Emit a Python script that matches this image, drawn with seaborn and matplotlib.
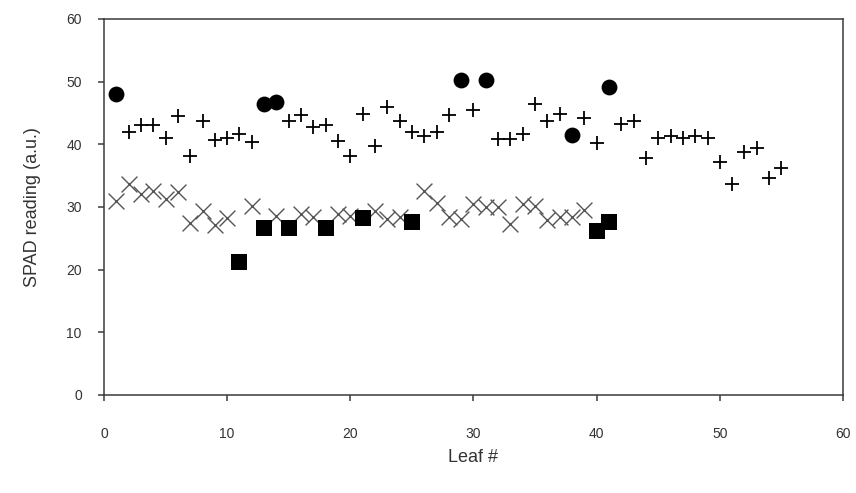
import matplotlib
matplotlib.use("Agg")
import matplotlib.pyplot as plt
import seaborn as sns
import pandas as pd

# Plus series (black +)
plus_x = [2, 3, 4, 5, 6, 7, 8, 9, 10, 11, 12, 15, 16, 17, 18, 19, 20, 21, 22, 23, 24,
          25, 26, 27, 28, 30, 32, 33, 34, 35, 36, 37, 39, 40, 42, 43, 44, 45, 46, 47,
          48, 49, 50, 51, 52, 53, 54, 55]
plus_y = [42.0, 43.1, 43.1, 41.0, 44.5, 38.2, 43.7, 40.7, 41.0, 41.6, 40.4, 43.7, 44.7,
          42.8, 43.1, 40.5, 38.2, 44.8, 39.8, 45.9, 43.7, 41.9, 41.4, 42.0, 44.6, 45.5,
          40.9, 40.9, 41.6, 46.4, 43.7, 44.8, 44.2, 40.2, 43.3, 43.7, 37.8, 41.0, 41.4,
          41.0, 41.4, 41.0, 37.2, 33.7, 38.8, 39.4, 34.6, 36.2]

# Cross series (grey x)
cross_x = [1, 2, 3, 4, 5, 6, 7, 8, 9, 10, 12, 14, 16, 17, 19, 20, 22, 23, 24, 26, 27,
           28, 29, 30, 31, 32, 33, 34, 35, 36, 37, 38, 39]
cross_y = [31.0, 33.7, 32.1, 32.6, 31.3, 32.4, 27.4, 29.3, 27.1, 28.3, 30.2, 28.5, 28.9,
           28.4, 28.9, 28.6, 29.4, 28.1, 28.4, 32.6, 30.6, 28.4, 28.1, 30.5, 30.0, 30.0,
           27.3, 30.4, 30.2, 27.9, 28.4, 28.4, 29.5]

# Filled circles
circle_x = [1, 13, 14, 29, 31, 38, 41]
circle_y = [48.0, 46.5, 46.7, 50.2, 50.2, 41.5, 49.2]

# Filled squares
square_x = [11, 13, 15, 18, 21, 25, 40, 41]
square_y = [21.2, 26.7, 26.7, 26.6, 28.2, 27.6, 26.1, 27.6]

sns.set_style("white")
plt.rcParams['font.family'] = ['Liberation Sans', 'DejaVu Sans']

fig = plt.figure(figsize=(8.56, 4.93), dpi=100)
ax = fig.add_axes([0.1215, 0.1988, 0.8633, 0.7627])

sns.scatterplot(x=cross_x, y=cross_y, marker='x', color='#555555', s=130,
                linewidth=1.0, ax=ax, zorder=2)
sns.scatterplot(x=plus_x, y=plus_y, marker='+', color='black', s=110,
                linewidth=1.3, ax=ax, zorder=3)
sns.scatterplot(x=square_x, y=square_y, marker='s', color='black', s=120,
                linewidth=0, ax=ax, zorder=4)
sns.scatterplot(x=circle_x, y=circle_y, marker='o', color='black', s=130,
                linewidth=0, ax=ax, zorder=4)

ax.set_xlim(0, 60)
ax.set_ylim(0, 60)
ax.set_xticks(range(0, 61, 10))
ax.set_yticks(range(0, 61, 10))
for sp in ax.spines.values():
    sp.set_visible(True)
    sp.set_color('#3a3a3a')
    sp.set_linewidth(1.1)
ax.tick_params(axis='both', direction='out', length=4, width=1.1, color='#3a3a3a',
               labelsize=10, labelcolor='#333333', bottom=True, left=True)
ax.tick_params(axis='x', pad=19)
ax.tick_params(axis='y', pad=12)
ax.set_xlabel('Leaf #', fontsize=13, color='#333333', labelpad=6)
ax.set_ylabel('SPAD reading (a.u.)', fontsize=13, color='#333333', labelpad=18)

fig.savefig('out.png', dpi=100)
